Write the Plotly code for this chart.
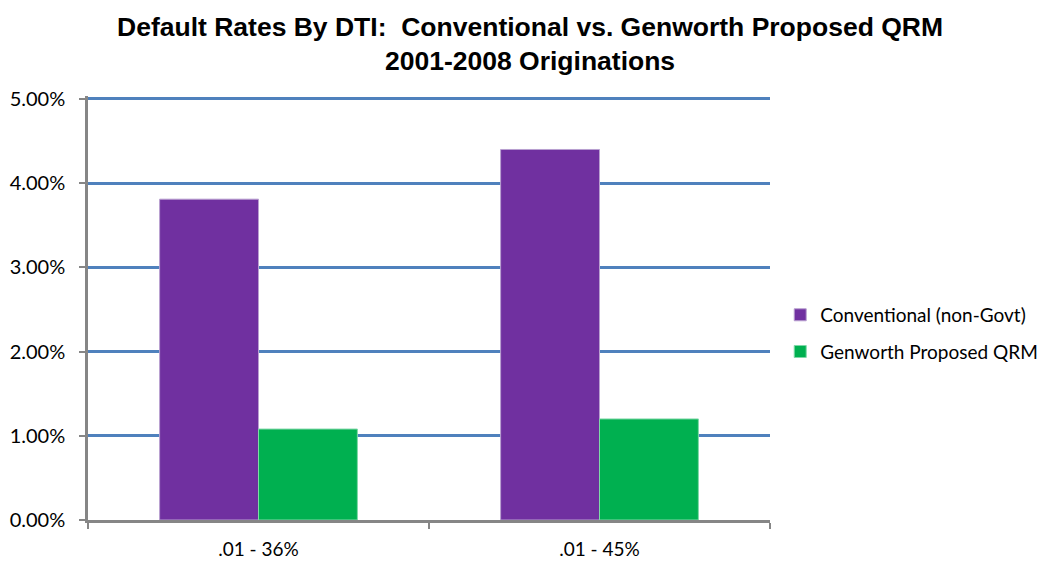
import plotly.graph_objects as go

categories = [".01 - 36%", ".01 - 45%"]
conventional = [0.0381, 0.0440]
genworth = [0.0108, 0.0120]
series_names = ["Conventional (non-Govt)", "Genworth Proposed QRM"]
y_ticks = [0, 0.01, 0.02, 0.03, 0.04, 0.05]

fig = go.Figure()
fig.add_trace(go.Bar(x=categories, y=conventional, name=series_names[0], legendgroup="a",
                     marker=dict(color="#7030a0", line=dict(color="#b9a0d0", width=1))))
fig.add_trace(go.Bar(x=categories, y=genworth, name=series_names[1], legendgroup="b",
                     marker=dict(color="#00b050", line=dict(color="#80d8a8", width=1))))

# page body has an 8px margin, so the figure is sized to fit the 1058x568 window
fig.update_layout(
    width=1042, height=552,
    paper_bgcolor="white", plot_bgcolor="white",
    margin=dict(l=80, r=280, t=88, b=40, autoexpand=False),
    barmode="group", bargap=0.42, bargroupgap=0,
    title=dict(
        text="Default Rates By DTI:  Conventional vs. Genworth Proposed QRM<br>2001-2008 Originations",
        x=0.501, xanchor="center", xref="container",
        y=0.95, yanchor="middle", yref="container",
        font=dict(family="Liberation Sans, Arial", size=26.5, color="black", weight="bold"),
    ),
    font=dict(family="Lato, Open Sans, sans-serif", size=18, color="black"),
    legend=dict(x=1.015, y=0.44, xanchor="left", yanchor="middle",
                font=dict(size=19), itemwidth=30, traceorder="grouped", tracegroupgap=9),
    showlegend=True,
)
fig.update_xaxes(
    showline=True, linecolor="#868686", linewidth=2.5,
    ticks="outside", tickson="boundaries", ticklen=6, tickcolor="#868686", tickwidth=2,
    tickfont=dict(size=19), showgrid=False, automargin=False, ticklabelstandoff=10,
)
fig.update_yaxes(
    range=[0, 0.05035], tickvals=y_ticks, tickformat=".2%",
    showline=True, linecolor="#868686", linewidth=2.5,
    ticks="outside", ticklen=6, tickcolor="#868686", tickwidth=2,
    showgrid=True, gridcolor="#4f81bd", gridwidth=2.5,
    zeroline=False, tickfont=dict(size=20), automargin=False, ticklabelstandoff=10,
)

fig.write_html("out.html")
